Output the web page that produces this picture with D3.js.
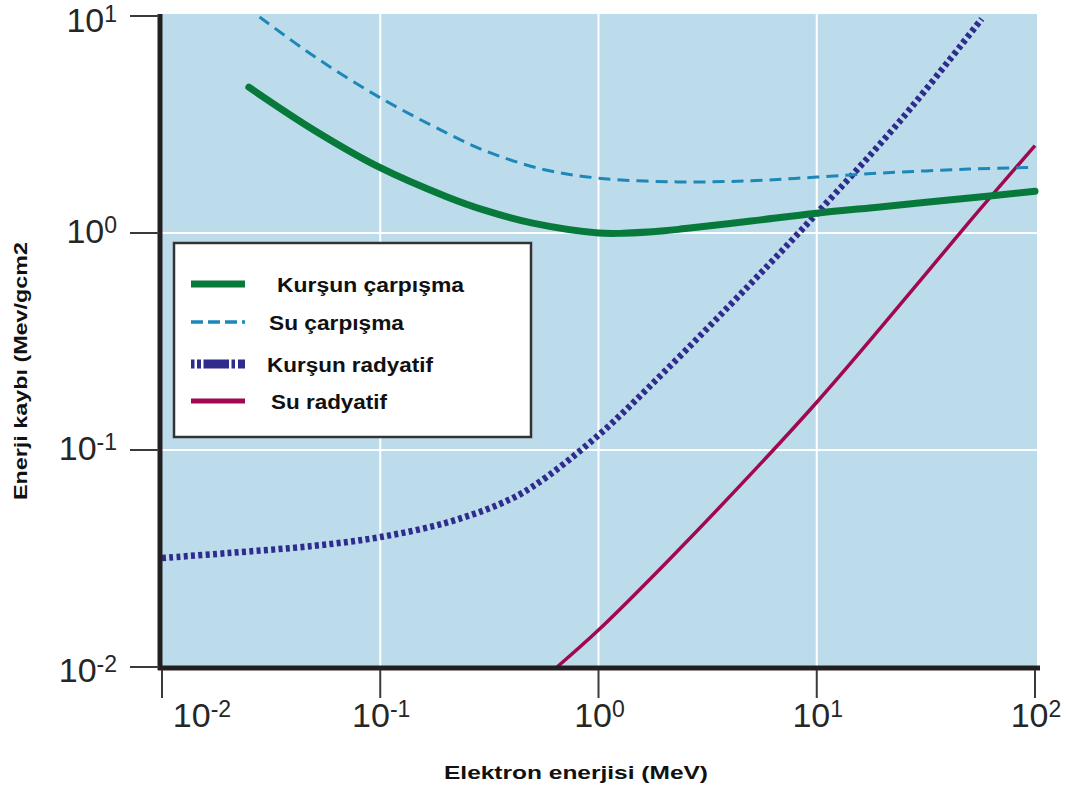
<!DOCTYPE html>
<html>
<head>
<meta charset="utf-8">
<script src="https://cdn.jsdelivr.net/npm/d3@7"></script>
<style>
  html, body { margin: 0; padding: 0; background: #ffffff; }
  svg { display: block; }
  text { font-family: "Liberation Sans", Arial, sans-serif; }
</style>
</head>
<body>
<svg id="chart" width="1070" height="788"></svg>
<script>
// Energy loss of electrons in lead and water (MeV / g cm^-2)
const leadCollisionE = [0.025, 0.05, 0.1, 0.2, 0.3, 0.5, 1, 1.3, 2, 2.5, 5, 10, 20, 50, 100];
const leadCollisionV = [4.7, 2.97, 2.0, 1.474, 1.274, 1.11, 1.0, 0.997, 1.023, 1.048, 1.136, 1.234, 1.322, 1.45, 1.556];

const waterCollisionE = [0.028, 0.05, 0.1, 0.2, 0.3, 0.55, 1, 2.3, 5, 10, 20, 50, 100];
const waterCollisionV = [9.9, 6.5, 4.2, 2.9, 2.4, 1.97, 1.79, 1.72, 1.74, 1.81, 1.89, 1.97, 2.01];

const leadRadiativeE = [0.01, 0.02, 0.05, 0.1, 0.2, 0.35, 0.5, 1, 2, 5, 10, 24, 57];
const leadRadiativeV = [0.0318, 0.0335, 0.0362, 0.0397, 0.0462, 0.0562, 0.0679, 0.117, 0.229, 0.587, 1.23, 3.27, 9.7];

const waterRadiativeE = [0.646, 1, 2, 5, 10, 20, 50, 100];
const waterRadiativeV = [0.01, 0.0148, 0.0296, 0.0776, 0.166, 0.374, 1.125, 2.53];

const xTickValues = [0.01, 0.1, 1, 10, 100];
const xTickExponents = ["-2", "-1", "0", "1", "2"];
const yTickValues = [0.01, 0.1, 1, 10];
const yTickExponents = ["-2", "-1", "0", "1"];

const legendLabels = ["Kurşun çarpışma", "Su çarpışma", "Kurşun radyatif", "Su radyatif"];
const xTitle = "Elektron enerjisi (MeV)";
const yTitle = "Enerji kaybı (Mev/gcm2";

const svg = d3.select("#chart");

const x = d3.scaleLog().domain([0.01, 100]).range([162, 1035]);
const y = d3.scaleLog().domain([0.01, 10]).range([667, 16]);

// plot background
svg.append("rect")
  .attr("x", x(0.01)).attr("y", y(10) - 2)
  .attr("width", x(100) + 2 - x(0.01))
  .attr("height", y(0.01) - y(10) + 2)
  .attr("fill", "#bcdcec");

// white grid lines
const grid = svg.append("g");
grid.selectAll("line.gx").data(xTickValues.slice(1, -1)).join("line")
  .attr("x1", d => x(d)).attr("x2", d => x(d))
  .attr("y1", y(10) - 2).attr("y2", y(0.01))
  .attr("stroke", "#ffffff").attr("stroke-width", 2);
grid.selectAll("line.gy").data(yTickValues.slice(1, -1)).join("line")
  .attr("x1", x(0.01)).attr("x2", x(100) + 2)
  .attr("y1", d => y(d)).attr("y2", d => y(d))
  .attr("stroke", "#ffffff").attr("stroke-width", 2);

// curves
const line = d3.line()
  .x(d => x(d[0])).y(d => y(d[1]))
  .curve(d3.curveCatmullRom.alpha(0.5));

const zip = (a, b) => a.map((v, i) => [v, b[i]]);

const curves = svg.append("g");

curves.append("path")
  .attr("d", line(zip(waterRadiativeE, waterRadiativeV)))
  .attr("fill", "none").attr("stroke", "#a0094f").attr("stroke-width", 3.5);

curves.append("path")
  .attr("d", line(zip(leadRadiativeE, leadRadiativeV)))
  .attr("fill", "none").attr("stroke", "#2f2c8e").attr("stroke-width", 6.5)
  .attr("stroke-dasharray", "4,3.3");

curves.append("path")
  .attr("d", line(zip(waterCollisionE, waterCollisionV)))
  .attr("fill", "none").attr("stroke", "#1d88b8").attr("stroke-width", 3)
  .attr("stroke-dasharray", "12,7");

curves.append("path")
  .attr("d", line(zip(leadCollisionE, leadCollisionV)))
  .attr("fill", "none").attr("stroke", "#077a3b").attr("stroke-width", 7)
  .attr("stroke-linecap", "round");

// axes lines
const axisColor = "#231f20";
svg.append("line")
  .attr("x1", x(0.01) - 2).attr("x2", x(0.01) - 2)
  .attr("y1", y(10) - 2).attr("y2", y(0.01) + 3)
  .attr("stroke", axisColor).attr("stroke-width", 5);
svg.append("line")
  .attr("x1", x(0.01) - 4).attr("x2", x(100) + 5)
  .attr("y1", y(0.01) + 1).attr("y2", y(0.01) + 1)
  .attr("stroke", axisColor).attr("stroke-width", 5);

// ticks
const tickColor = "#3a3a3a";
svg.selectAll("line.ty").data(yTickValues).join("line")
  .attr("x1", 130).attr("x2", x(0.01) - 3)
  .attr("y1", d => y(d)).attr("y2", d => y(d))
  .attr("stroke", tickColor).attr("stroke-width", 2);
svg.selectAll("line.tx").data(xTickValues).join("line")
  .attr("x1", d => x(d)).attr("x2", d => x(d))
  .attr("y1", y(0.01) + 3).attr("y2", 698)
  .attr("stroke", tickColor).attr("stroke-width", 2);

// tick labels with superscript exponents
const labelColor = "#262626";
function powerLabel(sel, exp) {
  sel.append("tspan").text("10");
  sel.append("tspan").attr("font-size", 23).attr("dy", -10).text(exp);
}
// end labels sit a little lower than the inner ones
const yLabelShift = [15, 10, 10, 16];
svg.selectAll("text.ylab").data(yTickValues).join("text")
  .attr("x", 117).attr("y", (d, i) => y(d) + yLabelShift[i])
  .attr("text-anchor", "end").attr("font-size", 34).attr("fill", labelColor)
  .each(function(d, i) { powerLabel(d3.select(this), yTickExponents[i]); });
svg.selectAll("text.xlab").data(xTickValues).join("text")
  .attr("x", (d, i) => i === 0 ? x(d) + 40 : x(d) + 1).attr("y", 727)
  .attr("text-anchor", "middle").attr("font-size", 34).attr("fill", labelColor)
  .each(function(d, i) { powerLabel(d3.select(this), xTickExponents[i]); });

// axis titles
svg.append("text")
  .attr("x", 444).attr("y", 779)
  .attr("font-size", 19).attr("font-weight", "bold")
  .attr("textLength", 264).attr("lengthAdjust", "spacingAndGlyphs")
  .attr("fill", "#111").text(xTitle);
svg.append("text")
  .attr("transform", "translate(27,500) rotate(-90)")
  .attr("font-size", 19).attr("font-weight", "bold")
  .attr("textLength", 258).attr("lengthAdjust", "spacingAndGlyphs")
  .attr("fill", "#111").text(yTitle);

// legend
const legend = svg.append("g");
legend.append("rect")
  .attr("x", 174).attr("y", 243).attr("width", 357).attr("height", 194)
  .attr("fill", "#ffffff").attr("stroke", "#333").attr("stroke-width", 2.5);

const legendStyles = [
  { y: 284, color: "#077a3b", width: 7, dash: null },
  { y: 322, color: "#1d88b8", width: 3.5, dash: "12,5" },
  { y: 364, color: "#2f2c8e", width: 9, dash: "3.5,2.5,4,2.5,25.5,2.5,3.5,3,7,100" },
  { y: 401, color: "#a0094f", width: 5, dash: null }
];
const legendTextX = [277, 269, 267, 271];
const legendTextW = [187, 135, 166, 116];

legendStyles.forEach((s, i) => {
  legend.append("line")
    .attr("x1", 191).attr("x2", 245)
    .attr("y1", s.y).attr("y2", s.y)
    .attr("stroke", s.color).attr("stroke-width", s.width)
    .attr("stroke-dasharray", s.dash);
  legend.append("text")
    .attr("x", legendTextX[i]).attr("y", s.y + 7.5)
    .attr("font-size", 20).attr("font-weight", "bold").attr("fill", "#111")
    .attr("textLength", legendTextW[i]).attr("lengthAdjust", "spacingAndGlyphs")
    .text(legendLabels[i]);
});
</script>
</body>
</html>
